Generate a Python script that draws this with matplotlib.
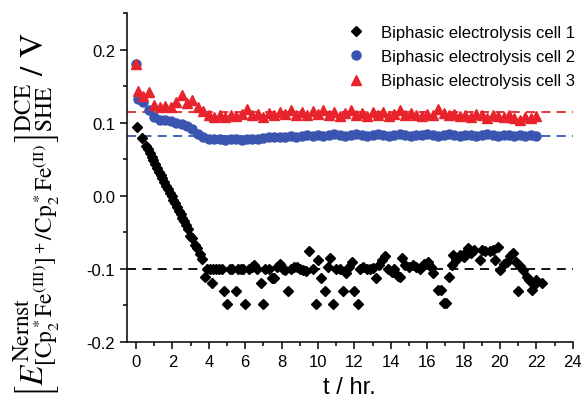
import matplotlib
matplotlib.use("Agg")
import matplotlib.pyplot as plt
from matplotlib.ticker import MultipleLocator, FormatStrFormatter

plt.rcParams['font.family'] = ['Liberation Sans', 'DejaVu Sans']
plt.rcParams['mathtext.fontset'] = 'stix'
plt.rcParams['axes.unicode_minus'] = False

# cell 1 (black diamonds)
t_cell1 = [0.05, 0.35, 0.55, 0.65, 0.75, 0.85, 0.95, 1.05, 1.15, 1.25, 1.35, 1.45,
           1.55, 1.65, 1.75, 1.85, 1.95, 2.05, 2.15, 2.25, 2.35, 2.45, 2.55, 2.65,
           2.75, 2.85, 2.95, 3.05, 3.25, 3.35, 3.5, 3.62,
           3.8, 3.9, 4.05, 4.2, 4.25, 4.4, 4.55, 4.7, 4.82, 4.98, 5.15, 5.3, 5.48,
           5.6, 5.75, 5.9, 5.99, 6.2, 6.35, 6.5, 6.63, 6.85, 7.0, 7.1, 7.3, 7.45,
           7.6, 7.75, 7.9, 8.05, 8.2, 8.37, 8.5, 8.7, 8.85, 9.0, 9.2, 9.35, 9.51,
           9.7, 9.87, 10.02, 10.16, 10.38, 10.53, 10.66, 10.84, 11.0, 11.2, 11.39,
           11.54, 11.7, 11.85, 12.0, 12.18, 12.3, 12.5, 12.7, 12.85, 13.0, 13.19,
           13.35, 13.5, 13.68, 13.85, 14.05, 14.2, 14.41, 14.5, 14.6, 14.8, 15.0,
           15.24, 15.4, 15.6, 15.8, 16.06, 16.2, 16.34, 16.6, 16.75, 16.94, 17.05,
           17.22, 17.35, 17.43, 17.6, 17.8, 18.0, 18.1, 18.26, 18.4, 18.6, 18.9,
           19.0, 19.2, 19.45, 19.6, 19.73, 19.9, 20.0, 20.2, 20.37, 20.55, 20.73,
           20.9, 21.0, 21.1, 21.28, 21.46, 21.6, 21.74, 21.85, 22.0, 22.3]
e_cell1 = [0.094, 0.079, 0.068, 0.064, 0.058, 0.053, 0.049, 0.044, 0.038, 0.033, 0.029, 0.024,
           0.019, 0.013, 0.009, 0.004, -0.001, -0.006, -0.010, -0.016, -0.021, -0.025, -0.030, -0.035,
           -0.040, -0.045, -0.055, -0.058, -0.068, -0.072, -0.080, -0.086,
           -0.111, -0.100, -0.100, -0.120, -0.100, -0.100, -0.100, -0.100, -0.130, -0.148, -0.100, -0.100, -0.130,
           -0.100, -0.100, -0.100, -0.148, -0.100, -0.098, -0.095, -0.100, -0.120, -0.148, -0.100, -0.100, -0.112,
           -0.112, -0.097, -0.093, -0.100, -0.102, -0.130, -0.100, -0.098, -0.097, -0.100, -0.101, -0.103, -0.076,
           -0.100, -0.148, -0.088, -0.112, -0.130, -0.098, -0.085, -0.148, -0.100, -0.100, -0.130,
           -0.106, -0.097, -0.090, -0.130, -0.148, -0.100, -0.098, -0.100, -0.100, -0.099, -0.112,
           -0.095, -0.088, -0.083, -0.100, -0.104, -0.100, -0.110, -0.111, -0.085, -0.095, -0.098,
           -0.095, -0.097, -0.100, -0.094, -0.090, -0.098, -0.106, -0.129, -0.129, -0.147, -0.147,
           -0.111, -0.095, -0.081, -0.088, -0.081, -0.084, -0.078, -0.072, -0.078, -0.074, -0.088,
           -0.074, -0.075, -0.076, -0.074, -0.088, -0.070, -0.101, -0.094, -0.090, -0.083, -0.078,
           -0.090, -0.130, -0.096, -0.101, -0.111, -0.115, -0.129, -0.122, -0.115, -0.120]

# cells 2 and 3 share the same sampling times
t_cell23 = [0.0, 0.1, 0.4, 0.7, 1.0, 1.3, 1.6, 1.9, 2.2, 2.5, 2.8, 3.1, 3.4, 3.7, 4.0, 4.3,
            4.6, 4.9, 5.2, 5.5, 5.8, 6.1, 6.4, 6.7, 7.0, 7.3, 7.6, 7.9, 8.2, 8.5, 8.8,
            9.1, 9.4, 9.7, 10.0, 10.3, 10.6, 10.9, 11.2, 11.5, 11.8, 12.1, 12.4, 12.7,
            13.0, 13.3, 13.6, 13.9, 14.2, 14.5, 14.8, 15.1, 15.4, 15.7, 16.0, 16.3,
            16.6, 16.9, 17.2, 17.5, 17.8, 18.1, 18.4, 18.7, 19.0, 19.3, 19.6, 19.9,
            20.2, 20.5, 20.8, 21.1, 21.4, 21.7, 22.0]
e_cell2 = [0.180, 0.133, 0.128, 0.117, 0.108, 0.104, 0.103, 0.102, 0.099, 0.098, 0.095, 0.091, 0.085,
           0.080, 0.078, 0.077, 0.077, 0.076, 0.077, 0.077, 0.076, 0.077, 0.078, 0.078, 0.079,
           0.080, 0.080, 0.081, 0.081, 0.082, 0.081, 0.082, 0.083, 0.082, 0.083, 0.082, 0.083,
           0.084, 0.083, 0.082, 0.083, 0.084, 0.083, 0.082, 0.083, 0.084, 0.083, 0.082, 0.083,
           0.084, 0.083, 0.082, 0.083, 0.083, 0.084, 0.083, 0.082, 0.083, 0.084, 0.083, 0.082,
           0.083, 0.083, 0.082, 0.083, 0.084, 0.083, 0.082, 0.083, 0.083, 0.082, 0.083, 0.082,
           0.083, 0.082]
e_cell3 = [0.180, 0.143, 0.137, 0.142, 0.124, 0.122, 0.123, 0.122, 0.128, 0.138, 0.127, 0.131, 0.122,
           0.116, 0.111, 0.108, 0.110, 0.108, 0.111, 0.109, 0.112, 0.119, 0.110, 0.112, 0.108,
           0.113, 0.110, 0.115, 0.112, 0.118, 0.111, 0.114, 0.110, 0.116, 0.112, 0.117, 0.111,
           0.114, 0.109, 0.113, 0.118, 0.111, 0.113, 0.109, 0.115, 0.111, 0.114, 0.109, 0.112,
           0.117, 0.110, 0.113, 0.111, 0.109, 0.112, 0.111, 0.119, 0.113, 0.110, 0.112, 0.109,
           0.111, 0.108, 0.112, 0.110, 0.107, 0.111, 0.109, 0.108, 0.110, 0.106, 0.103, 0.108,
           0.106, 0.109]

# reference (Nernst) levels
ref_cell1 = -0.100
ref_cell2 = 0.082
ref_cell3 = 0.115

blue = "#3a55b0"
red = "#e8232b"

fig = plt.figure(figsize=(5.85, 4.02), dpi=100)
ax = fig.add_axes([0.217, 0.147, 0.762, 0.818])

dash = (0, (5, 3.5))
ax.axhline(ref_cell1, color="black", lw=1.3, ls=dash, zorder=1)
ax.axhline(ref_cell2, color=blue, lw=1.3, ls=dash, zorder=1)
ax.axhline(ref_cell3, color=red, lw=1.3, ls=dash, zorder=1)

ax.plot(t_cell1, e_cell1, ls="none", marker="D", ms=5.0, color="black",
        label="Biphasic electrolysis cell 1", zorder=3)
ax.plot(t_cell23, e_cell2, ls="none", marker="o", ms=6.5, color=blue,
        label="Biphasic electrolysis cell 2", zorder=3)
ax.plot(t_cell23, e_cell3, ls="none", marker="^", ms=7.2, color=red,
        label="Biphasic electrolysis cell 3", zorder=4)

ax.set_xlim(-0.5, 24)
ax.set_ylim(-0.2, 0.25)
ax.xaxis.set_major_locator(MultipleLocator(2))
ax.xaxis.set_minor_locator(MultipleLocator(1))
ax.yaxis.set_major_locator(MultipleLocator(0.1))
ax.yaxis.set_minor_locator(MultipleLocator(0.05))
ax.yaxis.set_major_formatter(FormatStrFormatter('%.1f'))
for s in ["top", "right"]:
    ax.spines[s].set_visible(False)
for s in ["left", "bottom"]:
    ax.spines[s].set_linewidth(1.1)
ax.tick_params(which="major", direction="out", length=5, width=1.1, labelsize=12)
ax.tick_params(which="minor", direction="out", length=3, width=1.1)

ax.set_xlabel("t / hr.", fontsize=17, labelpad=5)
ax.set_ylabel(r"$\left[E^{\mathrm{Nernst}}_{[\mathrm{Cp}_2^*\mathrm{Fe}^{(\mathrm{III})}]^+/\mathrm{Cp}_2^*\mathrm{Fe}^{(\mathrm{II})}}\right]^{\mathrm{DCE}}_{\mathrm{SHE}}\ /\ \mathrm{V}$",
              fontsize=24)
ax.yaxis.set_label_coords(-0.145, 0.39)

ax.legend(loc="upper left", bbox_to_anchor=(0.598, 0.935), bbox_transform=fig.transFigure,
          frameon=False, fontsize=12, handlelength=0.8, handletextpad=1.1,
          labelspacing=0.55, borderpad=0, borderaxespad=0, numpoints=1)

fig.savefig("out.png", dpi=100)
